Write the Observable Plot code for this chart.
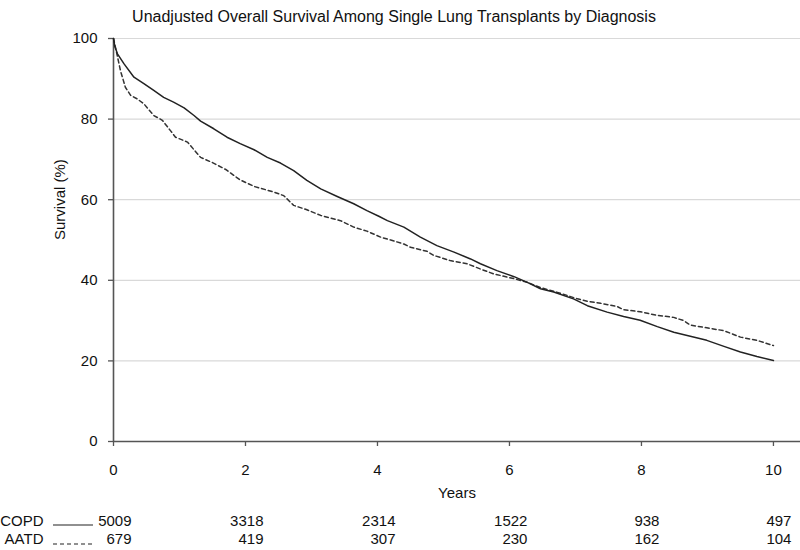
<!DOCTYPE html>
<html>
<head>
<meta charset="utf-8">
<script src="https://cdn.jsdelivr.net/npm/d3@7"></script>
<script src="https://cdn.jsdelivr.net/npm/@observablehq/plot@0.6"></script>
<style>
  html, body { margin: 0; padding: 0; background: #fff; }
  #chart svg { display: block; font-family: "Liberation Sans", Arial, sans-serif; }
</style>
</head>
<body>
<div id="chart"></div>
<script>
const title = "Unadjusted Overall Survival Among Single Lung Transplants by Diagnosis";
const xLabel = "Years";
const yLabel = "Survival (%)";

const xTicks = [0, 2, 4, 6, 8, 10];
const yTicks = [0, 20, 40, 60, 80, 100];

const copdYears = [0, 0.02, 0.06, 0.16, 0.31, 0.46, 0.61, 0.76, 0.91, 1.07, 1.22, 1.32, 1.52, 1.72, 1.92, 2.13, 2.33, 2.53, 2.73, 2.93, 3.14, 3.39, 3.64, 3.84, 4.02, 4.15, 4.40, 4.65, 4.90, 5.16, 5.41, 5.56, 5.81, 6.07, 6.27, 6.47, 6.67, 6.97, 7.18, 7.48, 7.73, 7.98, 8.24, 8.49, 8.74, 8.99, 9.25, 9.50, 9.75, 10.0];
const copdSurv  = [100, 98, 96.2, 93.7, 90.4, 88.8, 87.1, 85.4, 84.2, 82.8, 80.9, 79.5, 77.6, 75.5, 73.9, 72.4, 70.5, 69.1, 67.2, 64.8, 62.7, 60.8, 59.0, 57.3, 55.9, 54.8, 53.2, 50.7, 48.6, 47.0, 45.3, 44.1, 42.4, 40.9, 39.5, 37.9, 37.1, 35.4, 33.7, 32.1, 31.0, 30.1, 28.5, 27.1, 26.1, 25.1, 23.6, 22.2, 21.1, 20.1];

const aatdYears = [0, 0.03, 0.106, 0.18, 0.26, 0.36, 0.46, 0.61, 0.74, 0.86, 0.94, 1.12, 1.32, 1.5, 1.7, 1.92, 2.13, 2.43, 2.58, 2.73, 2.93, 3.14, 3.44, 3.64, 3.84, 4.05, 4.2, 4.4, 4.5, 4.75, 4.85, 5.1, 5.36, 5.56, 5.76, 6.07, 6.27, 6.47, 6.77, 7.03, 7.18, 7.38, 7.63, 7.73, 7.98, 8.24, 8.49, 8.64, 8.74, 8.99, 9.25, 9.5, 9.75, 10.0];
const aatdSurv  = [100, 97.8, 92, 87.9, 85.9, 85, 83.8, 80.9, 79.7, 77.2, 75.5, 74.3, 70.5, 69.2, 67.5, 64.9, 63.3, 61.9, 61.0, 58.6, 57.5, 56.1, 54.8, 53.2, 52.2, 50.7, 50.0, 49.0, 48.2, 47.2, 46.2, 44.9, 44.1, 42.8, 41.6, 40.4, 39.5, 38.2, 36.8, 35.4, 34.8, 34.3, 33.5, 32.7, 32.2, 31.3, 30.8, 30.0, 28.9, 28.2, 27.5, 25.9, 25.1, 23.8];

const riskYears = [0, 2, 4, 6, 8, 10];
const copdAtRisk = [5009, 3318, 2314, 1522, 938, 497];
const aatdAtRisk = [679, 419, 307, 230, 162, 104];
const groups = ["COPD", "AATD"];

const copd = copdYears.map((t, i) => ({t, s: copdSurv[i]}));
const aatd = aatdYears.map((t, i) => ({t, s: aatdSurv[i]}));

const axisColor = "#555";
const fs = 15;

const plot = Plot.plot({
  width: 800,
  height: 550,
  marginLeft: 113,
  marginRight: 0,
  marginTop: 38,
  marginBottom: 109,
  style: {fontFamily: '"Liberation Sans", Arial, sans-serif', fontSize: fs + "px", color: "#111", background: "#fff", overflow: "visible"},
  x: {domain: [0, 10.41], ticks: xTicks},
  y: {domain: [0, 100], ticks: yTicks},
  marks: [
    Plot.gridY(yTicks.filter(d => d > 0), {stroke: "#d9d9d9", strokeOpacity: 1, strokeWidth: 1.2}),
    Plot.axisY(yTicks, {tickSize: 5, tickPadding: 11, stroke: axisColor, strokeWidth: 1.3, fontSize: fs, label: null, fill: "#111"}),
    Plot.axisX(xTicks, {tickSize: 5, tickPadding: 18, stroke: axisColor, strokeWidth: 1.3, fontSize: fs, label: null, fill: "#111"}),
    Plot.ruleX([0], {stroke: axisColor, strokeWidth: 1.6}),
    Plot.ruleY([0], {stroke: axisColor, strokeWidth: 1.6}),
    Plot.line(aatd, {x: "t", y: "s", stroke: "#333", strokeWidth: 1.5, strokeDasharray: "4,3"}),
    Plot.line(copd, {x: "t", y: "s", stroke: "#222", strokeWidth: 1.5}),
    Plot.text([title], {frameAnchor: "top", dx: -63, dy: -28, fontSize: 16, fill: "#111"}),
    Plot.text([xLabel], {frameAnchor: "bottom", dy: 56, fontSize: fs, fill: "#111"}),
    Plot.text([yLabel], {frameAnchor: "left", dx: -53, rotate: -90, fontSize: fs, fill: "#111"}),
    Plot.text(riskYears, {x: d => d, text: (d, i) => String(copdAtRisk[i]), frameAnchor: "bottom", dy: 84, dx: 18, textAnchor: "end", fontSize: fs, fill: "#111"}),
    Plot.text(riskYears, {x: d => d, text: (d, i) => String(aatdAtRisk[i]), frameAnchor: "bottom", dy: 102, dx: 18, textAnchor: "end", fontSize: fs, fill: "#111"}),
    Plot.text([groups[0]], {frameAnchor: "bottom-left", dx: -70, dy: 84, textAnchor: "end", fontSize: fs, fill: "#111"}),
    Plot.text([groups[1]], {frameAnchor: "bottom-left", dx: -70, dy: 102, textAnchor: "end", fontSize: fs, fill: "#111"})
  ]
});

document.getElementById("chart").appendChild(plot);

// legend swatches in the risk table
const xs = plot.scale("x");
const x0 = xs.apply(0);
const yBottom = 550 - 109;
const svg = d3.select(plot);
svg.append("line").attr("x1", x0 - 60).attr("x2", x0 - 20).attr("y1", yBottom + 84).attr("y2", yBottom + 84)
  .attr("stroke", "#222").attr("stroke-width", 1.2);
svg.append("line").attr("x1", x0 - 60).attr("x2", x0 - 20).attr("y1", yBottom + 103).attr("y2", yBottom + 103)
  .attr("stroke", "#222").attr("stroke-width", 1.2).attr("stroke-dasharray", "4,3");
</script>
</body>
</html>
